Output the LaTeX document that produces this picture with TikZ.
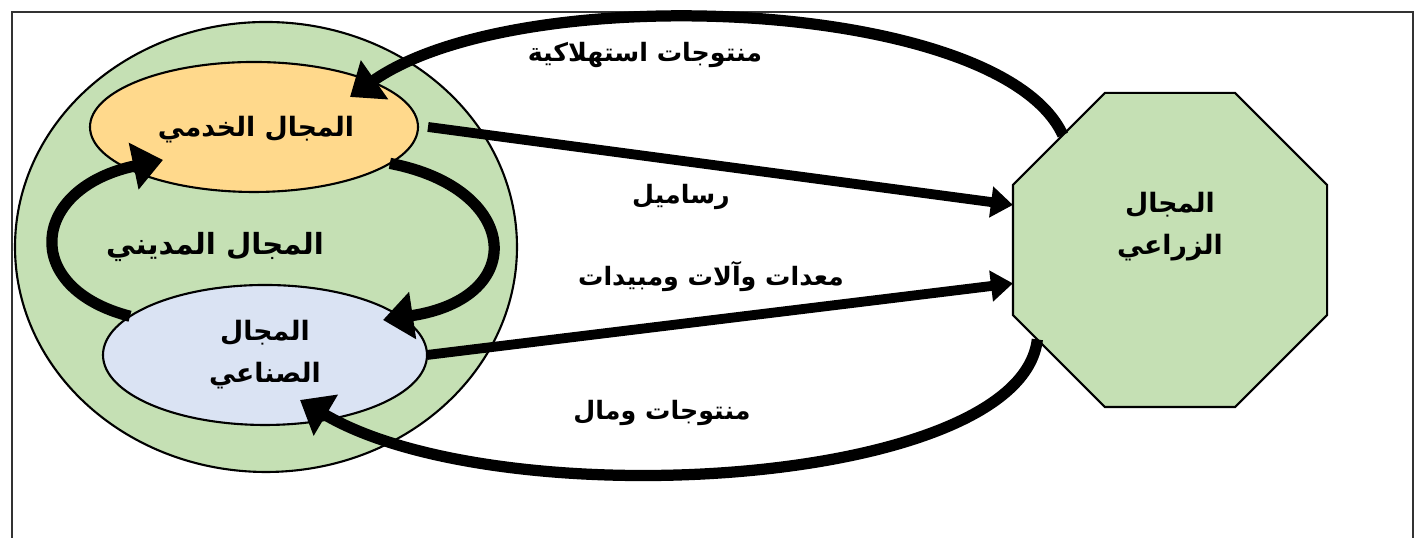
\documentclass[tikz,border=0pt]{standalone}
\usepackage{fontspec}
\newfontfamily\arabicfont[Script=Arabic]{DejaVu Sans}
\TeXXeTstate=1
\usepackage{tikz}
\usetikzlibrary{arrows.meta,shapes.geometric}
\definecolor{zonegreen}{HTML}{C5E0B4}
\definecolor{servyellow}{HTML}{FFD98C}
\definecolor{indblue}{HTML}{DAE3F3}
\newcommand{\artxt}[1]{\beginR #1\endR}
\tikzset{
  zone/.style={draw=black, semithick, inner sep=0pt, outer sep=0pt},
  zlab/.style={font=\arabicfont\bfseries\fontsize{7.6}{12}\selectfont, align=center, inner sep=1pt},
  lab/.style={font=\arabicfont\bfseries\fontsize{7.2}{10}\selectfont, align=center, inner sep=1pt},
  flow/.style={line width=2.8pt, draw=black, -{Triangle[length=2.2mm, width=3mm]}},
  loop/.style={line width=3.2pt, draw=black, -{Triangle[length=3mm, width=4.6mm]}},
}

\begin{document}
\begin{tikzpicture}
  \useasboundingbox (0,0) rectangle (14.22,5.38);
  % frame, open at the bottom
  \draw[line width=0.7pt, draw=black!80] (0.12,0) -- (0.12,5.26) -- (14.13,5.26) -- (14.13,0);
  % zones
  \node[zone, ellipse, fill=zonegreen, minimum width=5.02cm, minimum height=4.5cm] (city) at (2.66,2.91) {};
  \node[zone, ellipse, fill=servyellow, minimum width=3.28cm, minimum height=1.30cm] (serv) at (2.54,4.11) {};
  \node[zone, ellipse, fill=indblue, minimum width=3.24cm, minimum height=1.40cm] (ind) at (2.65,1.83) {};
  \node[zone, regular polygon, regular polygon sides=8, minimum size=3.4cm, fill=zonegreen] (agri) at (11.70,2.88) {};
  \node[zlab] (servlbl) at (2.56,4.08) {\artxt{المجال الخدمي}};
  \node[zlab, font=\arabicfont\bfseries\fontsize{8.3}{12}\selectfont] (citylbl) at (2.15,2.91) {\artxt{المجال المديني}};
  \node[zlab] (indlbl) at (2.65,1.83) {\artxt{المجال}\\\artxt{الصناعي}};
  \node[zlab] (agrilbl) at (11.70,3.11) {\artxt{المجال}\\\artxt{الزراعي}};
  % flows between the zones
  \draw[loop] (agri.133) .. controls (10.0,5.4) and (5.2,5.6) .. ([shift={(0.96,0.30)}]serv.center);
  \draw[loop] (agri.214) .. controls (10.2,0.5) and (5.0,0.2) .. ([shift={(0.35,-0.45)}]ind.center);
  \draw[loop] (ind.164) .. controls (0.2,2.5) and (0.3,3.5) .. ([shift={(-0.91,-0.33)}]serv.center);
  \draw[loop] (serv.-15) .. controls (5.2,3.5) and (5.3,2.4) .. ([shift={(1.18,0.35)}]ind.center);
  \draw[flow] ([xshift=1mm]serv.east) -- (agri.164);
  \draw[flow] (ind.east) -- (agri.192);
  % labels of the flows
  \node[lab] (goods) at (6.45,4.83) {\artxt{منتوجات استهلاكية}};
  \node[lab] (capital) at (6.81,3.41) {\artxt{رساميل}};
  \node[lab] (tools) at (7.11,2.61) {\artxt{معدات وآلات ومبيدات}};
  \node[lab] (money) at (6.62,1.25) {\artxt{منتوجات ومال}};
\end{tikzpicture}
\end{document}
